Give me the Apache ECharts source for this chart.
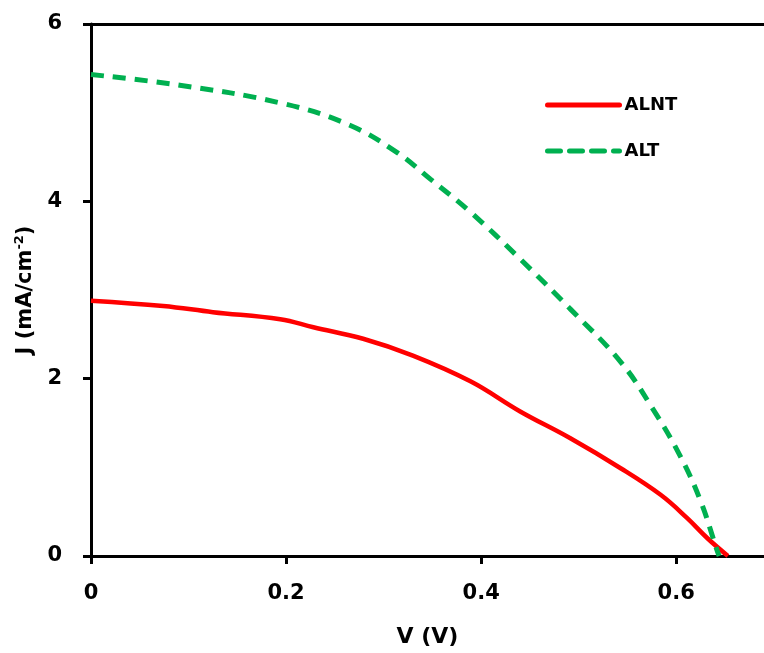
<!DOCTYPE html>
<html><head><meta charset="utf-8">
<script src="https://cdn.jsdelivr.net/npm/echarts@6/dist/echarts.min.js"></script>
<style>html,body{margin:0;padding:0;background:#fff}#c{width:764px;height:653px}</style>
</head><body><div id="c"></div>
<script>
const alntV = [0, 0.074, 0.125, 0.194, 0.228, 0.279, 0.330, 0.389, 0.44, 0.491, 0.543, 0.584, 0.611, 0.632, 0.653];
const alntJ = [2.88, 2.82, 2.75, 2.67, 2.58, 2.45, 2.26, 1.97, 1.63, 1.33, 0.99, 0.69, 0.43, 0.20, 0];
const altV = [0, 0.091, 0.194, 0.263, 0.314, 0.348, 0.389, 0.44, 0.491, 0.543, 0.576, 0.604, 0.625, 0.642, 0.644];
const altJ = [5.43, 5.31, 5.11, 4.87, 4.55, 4.25, 3.88, 3.35, 2.79, 2.19, 1.66, 1.13, 0.62, 0.06, 0];
const xTicks = [0, 0.2, 0.4, 0.6];
const yTicks = [0, 2, 4, 6];

const pairs = (xs, ys) => xs.map((x, i) => [x, ys[i]]);
const font = '"DejaVu Sans", Verdana, sans-serif';
const chart = echarts.init(document.getElementById('c'));
chart.setOption({
  animation: false,
  grid: { left: 91, top: 24, right: 0, bottom: 95, containLabel: false },
  legend: {
    orient: 'vertical', left: 540, top: 91, itemGap: 28, itemWidth: 72, itemHeight: 14,
    textStyle: { fontFamily: font, fontWeight: 'bold', fontSize: 18, color: '#000' },
    itemStyle: { color: 'transparent', borderWidth: 0, opacity: 0 },
    data: [
      { name: 'ALNT', lineStyle: { width: 5, color: '#ff0000', type: 'solid', cap: 'round' } },
      { name: 'ALT', lineStyle: { width: 5, color: '#00b050', type: [13, 9], cap: 'round' } }
    ]
  },
  xAxis: [{
    type: 'value', min: 0, max: 0.69, interval: 0.2,
    name: 'V (V)', nameLocation: 'middle', nameGap: 70,
    nameTextStyle: { fontFamily: font, fontWeight: 'bold', fontSize: 22, color: '#000' },
    axisLine: { show: true, lineStyle: { color: '#000', width: 3 } },
    axisTick: { show: true, length: 8, lineStyle: { color: '#000', width: 3 }, customValues: xTicks },
    axisLabel: { customValues: xTicks, margin: 27, fontFamily: font, fontWeight: 'bold', fontSize: 21, color: '#000', formatter: v => String(v) },
    splitLine: { show: false }
  }, {
    type: 'value', position: 'top', min: 0, max: 0.69,
    axisLine: { show: true, lineStyle: { color: '#000', width: 3 } },
    axisTick: { show: false }, axisLabel: { show: false }, splitLine: { show: false }
  }],
  yAxis: {
    type: 'value', min: 0, max: 6, interval: 2,
    name: '{a|J (mA/cm}{s|-2}{a|)}', nameLocation: 'middle', nameGap: 50, nameRotate: 90,
    nameTextStyle: {
      rich: {
        a: { fontFamily: font, fontWeight: 'bold', fontSize: 21, color: '#000' },
        s: { fontFamily: font, fontWeight: 'bold', fontSize: 13, color: '#000', verticalAlign: 'top', padding: [0, 0, 12, 0] }
      }
    },
    axisLine: { show: true, lineStyle: { color: '#000', width: 3 } },
    axisTick: { show: true, length: 8, lineStyle: { color: '#000', width: 3 } },
    axisLabel: { margin: 29, fontFamily: font, fontWeight: 'bold', fontSize: 21, color: '#000' },
    splitLine: { show: false }
  },
  series: [{
    name: 'ALNT', type: 'line', data: pairs(alntV, alntJ), smooth: 0.4, symbol: 'none',
    lineStyle: { color: '#ff0000', width: 4.5 }, itemStyle: { color: '#ff0000' }
  }, {
    name: 'ALT', type: 'line', data: pairs(altV, altJ), smooth: 0.4, symbol: 'none',
    lineStyle: { color: '#00b050', width: 5, type: [13, 9] }, itemStyle: { color: '#00b050' }
  }]
});
</script></body></html>
